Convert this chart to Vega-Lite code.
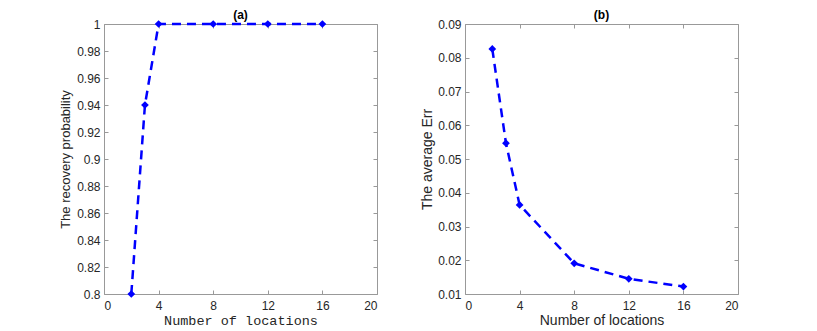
{
  "$schema": "https://vega.github.io/schema/vega-lite/v6.json",
  "background": "white",
  "padding": {"left": 59, "top": 8, "right": 5, "bottom": 2},
  "spacing": 88,
  "bounds": "flush",
  "config": {
    "view": {"stroke": "#999999", "strokeWidth": 1},
    "axis": {
      "grid": false,
      "domain": false,
      "tickColor": "#999999",
      "tickSize": -4,
      "labelColor": "#262626",
      "labelFont": "Liberation Sans",
      "labelFontSize": 12,
      "titleColor": "#262626",
      "titleFont": "Liberation Sans",
      "titleFontSize": 13,
      "titleFontWeight": "normal"
    },
    "title": {"font": "Liberation Sans", "fontSize": 12, "fontWeight": "bold", "color": "#000000", "offset": -4}
  },
  "datasets": {
    "a": [
      {"n": 2, "p": 0.80}, {"n": 3, "p": 0.94}, {"n": 4, "p": 1.0},
      {"n": 8, "p": 1.0}, {"n": 12, "p": 1.0}, {"n": 16, "p": 1.0}
    ],
    "b": [
      {"n": 2, "e": 0.0826}, {"n": 3, "e": 0.0547}, {"n": 4, "e": 0.0364},
      {"n": 8, "e": 0.0191}, {"n": 12, "e": 0.0145}, {"n": 16, "e": 0.0122}
    ]
  },
  "hconcat": [
    {
      "title": "(a)",
      "width": 273,
      "height": 270,
      "data": {"name": "a"},
      "layer": [
        {
          "mark": {"type": "line", "color": "#0000ff", "strokeWidth": 2.5, "strokeDash": [9, 6]},
          "encoding": {
            "x": {"field": "n", "type": "quantitative", "scale": {"domain": [0, 20], "nice": false},
                  "axis": {"values": [0, 4, 8, 12, 16, 20], "title": "Number of locations", "titleFont": "Liberation Mono", "titleFontSize": 13.5, "titlePadding": 2, "labelPadding": 10}},
            "y": {"field": "p", "type": "quantitative", "scale": {"domain": [0.8, 1], "nice": false, "zero": false},
                  "axis": {"values": [0.8, 0.82, 0.84, 0.86, 0.88, 0.9, 0.92, 0.94, 0.96, 0.98, 1], "format": "~g", "title": "The recovery probability", "labelPadding": 8, "titlePadding": 4}}
          }
        },
        {
          "mark": {"type": "point", "shape": "diamond", "filled": true, "color": "#0000ff", "size": 60, "opacity": 1},
          "encoding": {
            "x": {"field": "n", "type": "quantitative",
                  "axis": {"orient": "top", "values": [0, 4, 8, 12, 16, 20], "labels": false, "title": null}},
            "y": {"field": "p", "type": "quantitative",
                  "axis": {"orient": "right", "values": [0.8, 0.82, 0.84, 0.86, 0.88, 0.9, 0.92, 0.94, 0.96, 0.98, 1], "labels": false, "title": null}}
          }
        }
      ],
      "resolve": {"axis": {"x": "independent", "y": "independent"}}
    },
    {
      "title": "(b)",
      "width": 273,
      "height": 270,
      "data": {"name": "b"},
      "layer": [
        {
          "mark": {"type": "line", "color": "#0000ff", "strokeWidth": 2.5, "strokeDash": [9, 6]},
          "encoding": {
            "x": {"field": "n", "type": "quantitative", "scale": {"domain": [0, 20], "nice": false},
                  "axis": {"values": [0, 4, 8, 12, 16, 20], "title": "Number of locations", "titleFontSize": 14, "titlePadding": 2, "labelPadding": 10}},
            "y": {"field": "e", "type": "quantitative", "scale": {"domain": [0.01, 0.09], "nice": false, "zero": false},
                  "axis": {"values": [0.01, 0.02, 0.03, 0.04, 0.05, 0.06, 0.07, 0.08, 0.09], "format": "~g", "title": "The average Err", "titleFontSize": 14, "labelPadding": 8, "titlePadding": 3}}
          }
        },
        {
          "mark": {"type": "point", "shape": "diamond", "filled": true, "color": "#0000ff", "size": 60, "opacity": 1},
          "encoding": {
            "x": {"field": "n", "type": "quantitative",
                  "axis": {"orient": "top", "values": [0, 4, 8, 12, 16, 20], "labels": false, "title": null}},
            "y": {"field": "e", "type": "quantitative",
                  "axis": {"orient": "right", "values": [0.01, 0.02, 0.03, 0.04, 0.05, 0.06, 0.07, 0.08, 0.09], "labels": false, "title": null}}
          }
        }
      ],
      "resolve": {"axis": {"x": "independent", "y": "independent"}}
    }
  ]
}
